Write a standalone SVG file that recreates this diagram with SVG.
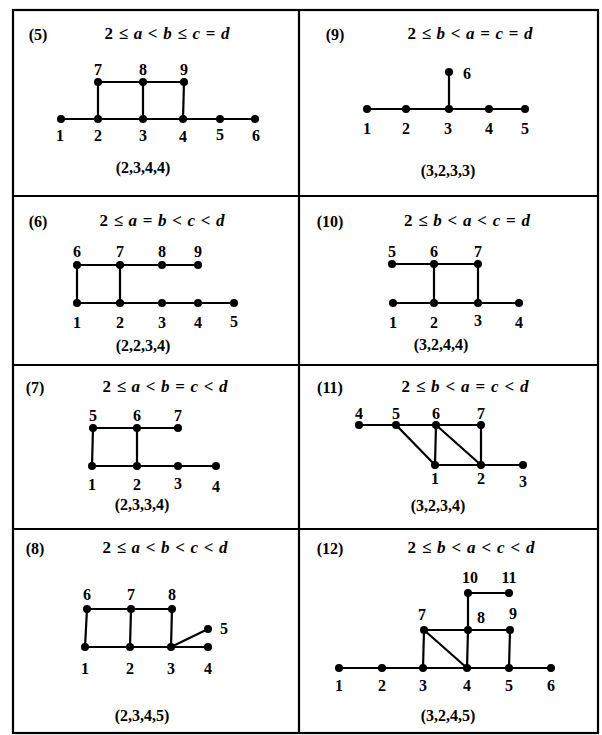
<svg xmlns="http://www.w3.org/2000/svg" width="602" height="735" viewBox="0 0 602 735">
<style>
text{font-family:"Liberation Serif","DejaVu Serif",serif;font-weight:bold;fill:#000}
.lb{font-size:16px;text-anchor:middle}
.hd{font-size:16px;text-anchor:middle}
.fm{font-size:17px;text-anchor:middle}
.fm tspan.v{font-style:italic}
.cap{font-size:16px;text-anchor:middle}
.e{stroke:#000;stroke-width:2.2;fill:none;stroke-linecap:round}
.f{stroke:#000;stroke-width:2.2;fill:none}
circle{fill:#000}
</style>
<rect width="602" height="735" fill="#fff"/>
<g id="frame">
<rect class="f" x="13" y="10" width="585" height="723"/>
<line class="f" x1="299" y1="10" x2="299" y2="733"/>
<line class="f" x1="13" y1="196" x2="598" y2="196"/>
<line class="f" x1="13" y1="365" x2="598" y2="365"/>
<line class="f" x1="13" y1="529" x2="598" y2="529"/>
</g>
<g id="titles">
<text class="hd" x="38" y="40">(5)</text>
<text class="fm" x="167" y="39" textLength="125" lengthAdjust="spacing">2 ≤ <tspan class="v">a</tspan> &lt; <tspan class="v">b</tspan> ≤ <tspan class="v">c</tspan> = <tspan class="v">d</tspan></text>
<text class="cap" x="143" y="173">(2,3,4,4)</text>
<text class="hd" x="335" y="40">(9)</text>
<text class="fm" x="470" y="39" textLength="125" lengthAdjust="spacing">2 ≤ <tspan class="v">b</tspan> &lt; <tspan class="v">a</tspan> = <tspan class="v">c</tspan> = <tspan class="v">d</tspan></text>
<text class="cap" x="448" y="176">(3,2,3,3)</text>
<text class="hd" x="38" y="227">(6)</text>
<text class="fm" x="162" y="226" textLength="125" lengthAdjust="spacing">2 ≤ <tspan class="v">a</tspan> = <tspan class="v">b</tspan> &lt; <tspan class="v">c</tspan> &lt; <tspan class="v">d</tspan></text>
<text class="cap" x="143" y="351">(2,2,3,4)</text>
<text class="hd" x="330" y="227">(10)</text>
<text class="fm" x="467" y="226" textLength="126" lengthAdjust="spacing">2 ≤ <tspan class="v">b</tspan> &lt; <tspan class="v">a</tspan> &lt; <tspan class="v">c</tspan> = <tspan class="v">d</tspan></text>
<text class="cap" x="441" y="350">(3,2,4,4)</text>
<text class="hd" x="35" y="393">(7)</text>
<text class="fm" x="165" y="392" textLength="125" lengthAdjust="spacing">2 ≤ <tspan class="v">a</tspan> &lt; <tspan class="v">b</tspan> = <tspan class="v">c</tspan> &lt; <tspan class="v">d</tspan></text>
<text class="cap" x="142" y="510">(2,3,3,4)</text>
<text class="hd" x="330" y="393">(11)</text>
<text class="fm" x="465" y="392" textLength="127" lengthAdjust="spacing">2 ≤ <tspan class="v">b</tspan> &lt; <tspan class="v">a</tspan> = <tspan class="v">c</tspan> &lt; <tspan class="v">d</tspan></text>
<text class="cap" x="438" y="511">(3,2,3,4)</text>
<text class="hd" x="35" y="554">(8)</text>
<text class="fm" x="165" y="553" textLength="125" lengthAdjust="spacing">2 ≤ <tspan class="v">a</tspan> &lt; <tspan class="v">b</tspan> &lt; <tspan class="v">c</tspan> &lt; <tspan class="v">d</tspan></text>
<text class="cap" x="142" y="721">(2,3,4,5)</text>
<text class="hd" x="330" y="554">(12)</text>
<text class="fm" x="471" y="553" textLength="127" lengthAdjust="spacing">2 ≤ <tspan class="v">b</tspan> &lt; <tspan class="v">a</tspan> &lt; <tspan class="v">c</tspan> &lt; <tspan class="v">d</tspan></text>
<text class="cap" x="448" y="721">(3,2,4,5)</text>
</g>
<g id="connectors">
<line class="e" x1="61" y1="119" x2="255" y2="119"/>
<line class="e" x1="98" y1="82" x2="184" y2="82"/>
<line class="e" x1="98" y1="82" x2="98" y2="119"/>
<line class="e" x1="143" y1="82" x2="143" y2="119"/>
<line class="e" x1="184" y1="82" x2="183" y2="119"/>
<line class="e" x1="367" y1="109" x2="525" y2="109"/>
<line class="e" x1="449" y1="72" x2="449" y2="109"/>
<line class="e" x1="77" y1="265" x2="198" y2="265"/>
<line class="e" x1="77" y1="303" x2="234" y2="303"/>
<line class="e" x1="77" y1="265" x2="77" y2="303"/>
<line class="e" x1="120" y1="265" x2="120" y2="303"/>
<line class="e" x1="392" y1="264" x2="478" y2="264"/>
<line class="e" x1="393" y1="303" x2="519" y2="303"/>
<line class="e" x1="434" y1="264" x2="434" y2="303"/>
<line class="e" x1="478" y1="264" x2="478" y2="303"/>
<line class="e" x1="93" y1="428" x2="178" y2="428"/>
<line class="e" x1="92" y1="466" x2="216" y2="466"/>
<line class="e" x1="93" y1="428" x2="92" y2="466"/>
<line class="e" x1="137" y1="428" x2="137" y2="466"/>
<line class="e" x1="359" y1="425" x2="481" y2="425"/>
<line class="e" x1="435" y1="465" x2="523" y2="465"/>
<line class="e" x1="396" y1="425" x2="435" y2="465"/>
<line class="e" x1="436" y1="425" x2="435" y2="465"/>
<line class="e" x1="436" y1="425" x2="481" y2="465"/>
<line class="e" x1="481" y1="425" x2="481" y2="465"/>
<line class="e" x1="87" y1="609" x2="172" y2="609"/>
<line class="e" x1="85" y1="647" x2="208" y2="647"/>
<line class="e" x1="87" y1="609" x2="85" y2="647"/>
<line class="e" x1="131" y1="609" x2="130" y2="647"/>
<line class="e" x1="172" y1="609" x2="171" y2="647"/>
<line class="e" x1="171" y1="647" x2="208" y2="629"/>
<line class="e" x1="339" y1="668" x2="551" y2="668"/>
<line class="e" x1="424" y1="630" x2="510" y2="630"/>
<line class="e" x1="468" y1="593" x2="509" y2="593"/>
<line class="e" x1="468" y1="593" x2="468" y2="630"/>
<line class="e" x1="468" y1="630" x2="467" y2="668"/>
<line class="e" x1="424" y1="630" x2="423" y2="668"/>
<line class="e" x1="424" y1="630" x2="467" y2="668"/>
<line class="e" x1="510" y1="630" x2="509" y2="668"/>
</g>
<g id="p5">
<g id="p5-n1"><circle cx="61" cy="119" r="4"/><text class="lb" x="60" y="141">1</text></g>
<g id="p5-n2"><circle cx="98" cy="119" r="4"/><text class="lb" x="98" y="141">2</text></g>
<g id="p5-n3"><circle cx="143" cy="119" r="4"/><text class="lb" x="143" y="141">3</text></g>
<g id="p5-n4"><circle cx="183" cy="119" r="4"/><text class="lb" x="183" y="142">4</text></g>
<g id="p5-n5"><circle cx="220" cy="119" r="4"/><text class="lb" x="220" y="140">5</text></g>
<g id="p5-n6"><circle cx="255" cy="119" r="4"/><text class="lb" x="256" y="141">6</text></g>
<g id="p5-n7"><circle cx="98" cy="82" r="4"/><text class="lb" x="98" y="75">7</text></g>
<g id="p5-n8"><circle cx="143" cy="82" r="4"/><text class="lb" x="143" y="75">8</text></g>
<g id="p5-n9"><circle cx="184" cy="82" r="4"/><text class="lb" x="184" y="75">9</text></g>
</g>
<g id="p9">
<g id="p9-n1"><circle cx="367" cy="109" r="4"/><text class="lb" x="367" y="134">1</text></g>
<g id="p9-n2"><circle cx="406" cy="109" r="4"/><text class="lb" x="406" y="134">2</text></g>
<g id="p9-n3"><circle cx="449" cy="109" r="4"/><text class="lb" x="448" y="134">3</text></g>
<g id="p9-n4"><circle cx="489" cy="109" r="4"/><text class="lb" x="489" y="134">4</text></g>
<g id="p9-n5"><circle cx="525" cy="109" r="4"/><text class="lb" x="525" y="134">5</text></g>
<g id="p9-n6"><circle cx="449" cy="72" r="4"/><text class="lb" x="467" y="79">6</text></g>
</g>
<g id="p6">
<g id="p6-n1"><circle cx="77" cy="303" r="4"/><text class="lb" x="77" y="328">1</text></g>
<g id="p6-n2"><circle cx="120" cy="303" r="4"/><text class="lb" x="120" y="328">2</text></g>
<g id="p6-n3"><circle cx="162" cy="303" r="4"/><text class="lb" x="162" y="328">3</text></g>
<g id="p6-n4"><circle cx="198" cy="303" r="4"/><text class="lb" x="198" y="328">4</text></g>
<g id="p6-n5"><circle cx="234" cy="303" r="4"/><text class="lb" x="234" y="327">5</text></g>
<g id="p6-n6"><circle cx="77" cy="265" r="4"/><text class="lb" x="77" y="257">6</text></g>
<g id="p6-n7"><circle cx="120" cy="265" r="4"/><text class="lb" x="120" y="257">7</text></g>
<g id="p6-n8"><circle cx="162" cy="265" r="4"/><text class="lb" x="162" y="257">8</text></g>
<g id="p6-n9"><circle cx="198" cy="265" r="4"/><text class="lb" x="198" y="257">9</text></g>
</g>
<g id="p10">
<g id="p10-n1"><circle cx="393" cy="303" r="4"/><text class="lb" x="393" y="328">1</text></g>
<g id="p10-n2"><circle cx="434" cy="303" r="4"/><text class="lb" x="434" y="328">2</text></g>
<g id="p10-n3"><circle cx="478" cy="303" r="4"/><text class="lb" x="478" y="326">3</text></g>
<g id="p10-n4"><circle cx="519" cy="303" r="4"/><text class="lb" x="519" y="328">4</text></g>
<g id="p10-n5"><circle cx="392" cy="264" r="4"/><text class="lb" x="392" y="257">5</text></g>
<g id="p10-n6"><circle cx="434" cy="264" r="4"/><text class="lb" x="434" y="257">6</text></g>
<g id="p10-n7"><circle cx="478" cy="264" r="4"/><text class="lb" x="478" y="257">7</text></g>
</g>
<g id="p7">
<g id="p7-n1"><circle cx="92" cy="466" r="4"/><text class="lb" x="92" y="490">1</text></g>
<g id="p7-n2"><circle cx="137" cy="466" r="4"/><text class="lb" x="137" y="490">2</text></g>
<g id="p7-n3"><circle cx="178" cy="466" r="4"/><text class="lb" x="178" y="489">3</text></g>
<g id="p7-n4"><circle cx="216" cy="466" r="4"/><text class="lb" x="216" y="492">4</text></g>
<g id="p7-n5"><circle cx="93" cy="428" r="4"/><text class="lb" x="93" y="421">5</text></g>
<g id="p7-n6"><circle cx="137" cy="428" r="4"/><text class="lb" x="137" y="421">6</text></g>
<g id="p7-n7"><circle cx="178" cy="428" r="4"/><text class="lb" x="178" y="421">7</text></g>
</g>
<g id="p11">
<g id="p11-n1"><circle cx="435" cy="465" r="4"/><text class="lb" x="435" y="484">1</text></g>
<g id="p11-n2"><circle cx="481" cy="465" r="4"/><text class="lb" x="481" y="484">2</text></g>
<g id="p11-n3"><circle cx="523" cy="465" r="4"/><text class="lb" x="523" y="487">3</text></g>
<g id="p11-n4"><circle cx="359" cy="425" r="4"/><text class="lb" x="359" y="419">4</text></g>
<g id="p11-n5"><circle cx="396" cy="425" r="4"/><text class="lb" x="396" y="419">5</text></g>
<g id="p11-n6"><circle cx="436" cy="425" r="4"/><text class="lb" x="436" y="419">6</text></g>
<g id="p11-n7"><circle cx="481" cy="425" r="4"/><text class="lb" x="481" y="419">7</text></g>
</g>
<g id="p8">
<g id="p8-n1"><circle cx="85" cy="647" r="4"/><text class="lb" x="85" y="674">1</text></g>
<g id="p8-n2"><circle cx="130" cy="647" r="4"/><text class="lb" x="130" y="674">2</text></g>
<g id="p8-n3"><circle cx="171" cy="647" r="4"/><text class="lb" x="171" y="674">3</text></g>
<g id="p8-n4"><circle cx="208" cy="647" r="4"/><text class="lb" x="208" y="674">4</text></g>
<g id="p8-n5"><circle cx="208" cy="629" r="4"/><text class="lb" x="224" y="634">5</text></g>
<g id="p8-n6"><circle cx="87" cy="609" r="4"/><text class="lb" x="87" y="600">6</text></g>
<g id="p8-n7"><circle cx="131" cy="609" r="4"/><text class="lb" x="131" y="600">7</text></g>
<g id="p8-n8"><circle cx="172" cy="609" r="4"/><text class="lb" x="172" y="600">8</text></g>
</g>
<g id="p12">
<g id="p12-n1"><circle cx="339" cy="668" r="4"/><text class="lb" x="339" y="691">1</text></g>
<g id="p12-n2"><circle cx="382" cy="668" r="4"/><text class="lb" x="382" y="691">2</text></g>
<g id="p12-n3"><circle cx="423" cy="668" r="4"/><text class="lb" x="423" y="691">3</text></g>
<g id="p12-n4"><circle cx="467" cy="668" r="4"/><text class="lb" x="467" y="691">4</text></g>
<g id="p12-n5"><circle cx="509" cy="668" r="4"/><text class="lb" x="509" y="691">5</text></g>
<g id="p12-n6"><circle cx="551" cy="668" r="4"/><text class="lb" x="551" y="691">6</text></g>
<g id="p12-n7"><circle cx="424" cy="630" r="4"/><text class="lb" x="422" y="620">7</text></g>
<g id="p12-n8"><circle cx="468" cy="630" r="4"/><text class="lb" x="481" y="623">8</text></g>
<g id="p12-n9"><circle cx="510" cy="630" r="4"/><text class="lb" x="513" y="619">9</text></g>
<g id="p12-n10"><circle cx="468" cy="593" r="4"/><text class="lb" x="470" y="583">10</text></g>
<g id="p12-n11"><circle cx="509" cy="593" r="4"/><text class="lb" x="509" y="583">11</text></g>
</g>
</svg>
